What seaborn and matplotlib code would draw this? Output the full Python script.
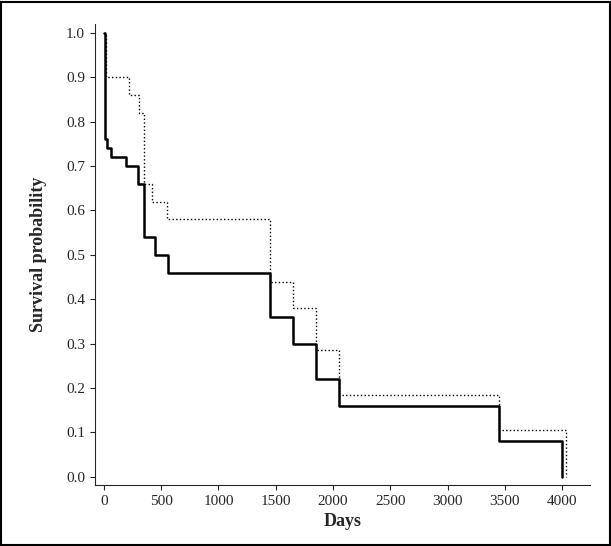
import matplotlib
matplotlib.use("Agg")
import matplotlib.pyplot as plt
import seaborn as sns
import pandas as pd

solid_t = [0, 10, 30, 60, 190, 300, 350, 450, 560, 1450, 1650, 1850, 2050, 3450, 4000]
solid_s = [1.0, 0.76, 0.74, 0.72, 0.70, 0.66, 0.54, 0.50, 0.46, 0.36, 0.30, 0.22, 0.16, 0.08, 0.0]
dot_t = [0, 20, 220, 310, 350, 420, 550, 1450, 1650, 1850, 2050, 3450, 4030]
dot_s = [1.0, 0.90, 0.86, 0.82, 0.66, 0.62, 0.58, 0.44, 0.38, 0.285, 0.185, 0.105, 0.0]

sns.set_style("ticks")
plt.rcParams['font.family'] = ['Liberation Serif', 'DejaVu Serif']
fig = plt.figure(figsize=(6.11, 5.46), dpi=100)
ax = fig.add_axes([0.155, 0.112, 0.81, 0.844])
d1 = pd.DataFrame({"t": solid_t, "s": solid_s})
d2 = pd.DataFrame({"t": dot_t, "s": dot_s})
sns.lineplot(data=d2, x="t", y="s", drawstyle="steps-post", color="black", lw=1, ls=":", ax=ax)
sns.lineplot(data=d1, x="t", y="s", drawstyle="steps-post", color="black", lw=1.8, ax=ax)
ax.set_xlim(-80, 4240)
ax.set_ylim(-0.018, 1.02)
ax.set_xticks(range(0, 4001, 500))
ax.set_yticks([i / 10 for i in range(11)])
ax.set_yticklabels([f"{i/10:.1f}" for i in range(11)])
ax.tick_params(labelsize=11)
ax.set_xlabel("Days", fontsize=13, fontweight="bold")
ax.set_ylabel("Survival probability", fontsize=13, fontweight="bold", labelpad=14)
for s in ["top", "right"]:
    ax.spines[s].set_visible(False)
fig.patches.append(plt.Rectangle((0.002, 0.002), 0.996, 0.994, transform=fig.transFigure,
                                 fill=False, ec="black", lw=1.5))
fig.savefig("out.png", dpi=100)
